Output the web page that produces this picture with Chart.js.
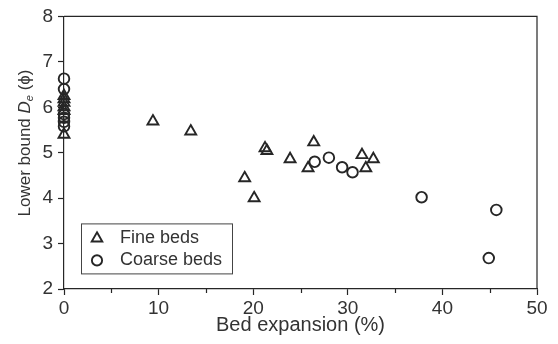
<!DOCTYPE html>
<html><head><meta charset="utf-8">
<script src="https://cdn.jsdelivr.net/npm/chart.js@4"></script>
<style>html,body{margin:0;padding:0;background:#fff}</style>
</head><body>
<canvas id="c" width="558" height="344"></canvas>
<script>
// ---- data ----
const fineX = [0, 0, 0, 0, 0, 0, 9.4, 13.4, 19.1, 20.1, 21.25, 21.45, 23.9, 25.8, 26.4, 31.5, 31.9, 32.7];
const fineY = [6.25, 6.18, 6.1, 6.0, 5.92, 5.4, 5.69, 5.47, 4.44, 4.0, 5.1, 5.04, 4.86, 4.66, 5.23, 4.95, 4.66, 4.86];
const coarseX = [0, 0, 0, 0, 0, 0, 26.5, 28.0, 29.4, 30.5, 37.8, 45.7, 44.9];
const coarseY = [6.63, 6.4, 5.85, 5.77, 5.68, 5.58, 4.8, 4.89, 4.68, 4.57, 4.02, 3.74, 2.68];
const xTickLabels = [0, 10, 20, 30, 40, 50];
const xMinorTicks = [5, 15, 25, 35, 45];
const yTickLabels = [2, 3, 4, 5, 6, 7, 8];
const seriesNames = ['Fine beds', 'Coarse beds'];
const xTitle = 'Bed expansion (%)';

const toPts = (xs, ys) => xs.map((x, i) => ({x: x, y: ys[i]}));
const INK = '#262626';
const TXT = '#333333';
const FONT = '"Liberation Sans", Arial, sans-serif';

const extras = {
  id: 'extras',
  beforeDatasetsDraw(chart) {
    const {ctx, chartArea: a, scales} = chart;
    ctx.save();
    ctx.strokeStyle = INK;
    ctx.lineWidth = 1.2;
    ctx.beginPath();
    ctx.moveTo(a.left, a.top); ctx.lineTo(a.right, a.top); ctx.lineTo(a.right, a.bottom);
    ctx.stroke();
    // minor x ticks
    ctx.beginPath();
    xMinorTicks.forEach(v => {
      const px = Math.round(scales.x.getPixelForValue(v)) + 0.5;
      ctx.moveTo(px, a.bottom); ctx.lineTo(px, a.bottom + 4);
    });
    ctx.stroke();
    ctx.restore();
  },
  afterDraw(chart) {
    const {ctx, chartArea: a} = chart;
    ctx.save();
    ctx.fillStyle = TXT;
    // x title
    ctx.font = '20px ' + FONT;
    ctx.textAlign = 'center';
    ctx.textBaseline = 'alphabetic';
    ctx.fillText(xTitle, (a.left + a.right) / 2, 331);
    // y title with italic D and subscript e
    const parts = [
      {t: 'Lower bound ', f: '17px ' + FONT, dy: 0},
      {t: 'D', f: 'italic 17px ' + FONT, dy: 0},
      {t: 'e', f: 'italic 11px ' + FONT, dy: 3},
      {t: ' (\u03D5)', f: '17px ' + FONT, dy: 0}
    ];
    let total = 0;
    parts.forEach(p => { ctx.font = p.f; p.w = ctx.measureText(p.t).width; total += p.w; });
    ctx.translate(30, 143);
    ctx.rotate(-Math.PI / 2);
    ctx.textAlign = 'left';
    let x = -total / 2;
    parts.forEach(p => { ctx.font = p.f; ctx.fillText(p.t, x, p.dy); x += p.w; });
    ctx.restore();

    // legend inside plot
    const lx = a.left + 17, ly = a.top + 207, lw = 151, lh = 50;
    ctx.save();
    ctx.strokeStyle = '#444';
    ctx.lineWidth = 1;
    ctx.strokeRect(lx + 0.5, ly + 0.5, lw, lh);
    chart.data.datasets.forEach((ds, i) => {
      const cy = ly + 15 + i * 22;
      ctx.strokeStyle = INK;
      ctx.fillStyle = 'rgba(255,255,255,0)';
      ctx.lineWidth = ds.borderWidth;
      Chart.helpers.drawPoint(ctx, {
        pointStyle: ds.pointStyle, radius: ds.pointRadius - 0.2, borderWidth: ds.borderWidth
      }, lx + 16, cy);
      ctx.fillStyle = TXT;
      ctx.font = '18px ' + FONT;
      ctx.textAlign = 'left';
      ctx.textBaseline = 'middle';
      ctx.fillText(ds.label, lx + 39, cy);
    });
    ctx.restore();
  }
};

new Chart(document.getElementById('c'), {
  type: 'scatter',
  data: {
    datasets: [
      {label: seriesNames[0], data: toPts(fineX, fineY), pointStyle: 'triangle', pointRadius: 6.3,
       borderColor: INK, backgroundColor: 'rgba(255,255,255,0)', borderWidth: 1.9, clip: false},
      {label: seriesNames[1], data: toPts(coarseX, coarseY), pointStyle: 'circle', pointRadius: 5.3,
       borderColor: INK, backgroundColor: 'rgba(255,255,255,0)', borderWidth: 1.9, clip: false}
    ]
  },
  options: {
    responsive: false,
    devicePixelRatio: 1,
    animation: false,
    layout: {padding: {top: 16, right: 21, left: 0, bottom: 0}},
    plugins: {legend: {display: false}, tooltip: {enabled: false}},
    scales: {
      x: {
        type: 'linear', min: 0, max: 50,
        afterFit: s => { s.height = 55; },
        afterBuildTicks: s => { s.ticks = xTickLabels.map(v => ({value: v})); },
        ticks: {color: TXT, font: {family: FONT, size: 19}, padding: 2, maxRotation: 0,
                callback: v => String(v)},
        grid: {display: true, drawOnChartArea: false, drawTicks: true, tickLength: 6, tickColor: INK, tickWidth: 1.2},
        border: {display: true, color: INK, width: 1.2}
      },
      y: {
        type: 'linear', min: 2, max: 8,
        afterFit: s => { s.width = 64; },
        afterBuildTicks: s => { s.ticks = yTickLabels.map(v => ({value: v})); },
        ticks: {color: TXT, font: {family: FONT, size: 19}, padding: 5, callback: v => String(v)},
        grid: {display: true, drawOnChartArea: false, drawTicks: true, tickLength: 6, tickColor: INK, tickWidth: 1.2},
        border: {display: true, color: INK, width: 1.2}
      }
    }
  },
  plugins: [extras]
});
</script>
</body></html>
